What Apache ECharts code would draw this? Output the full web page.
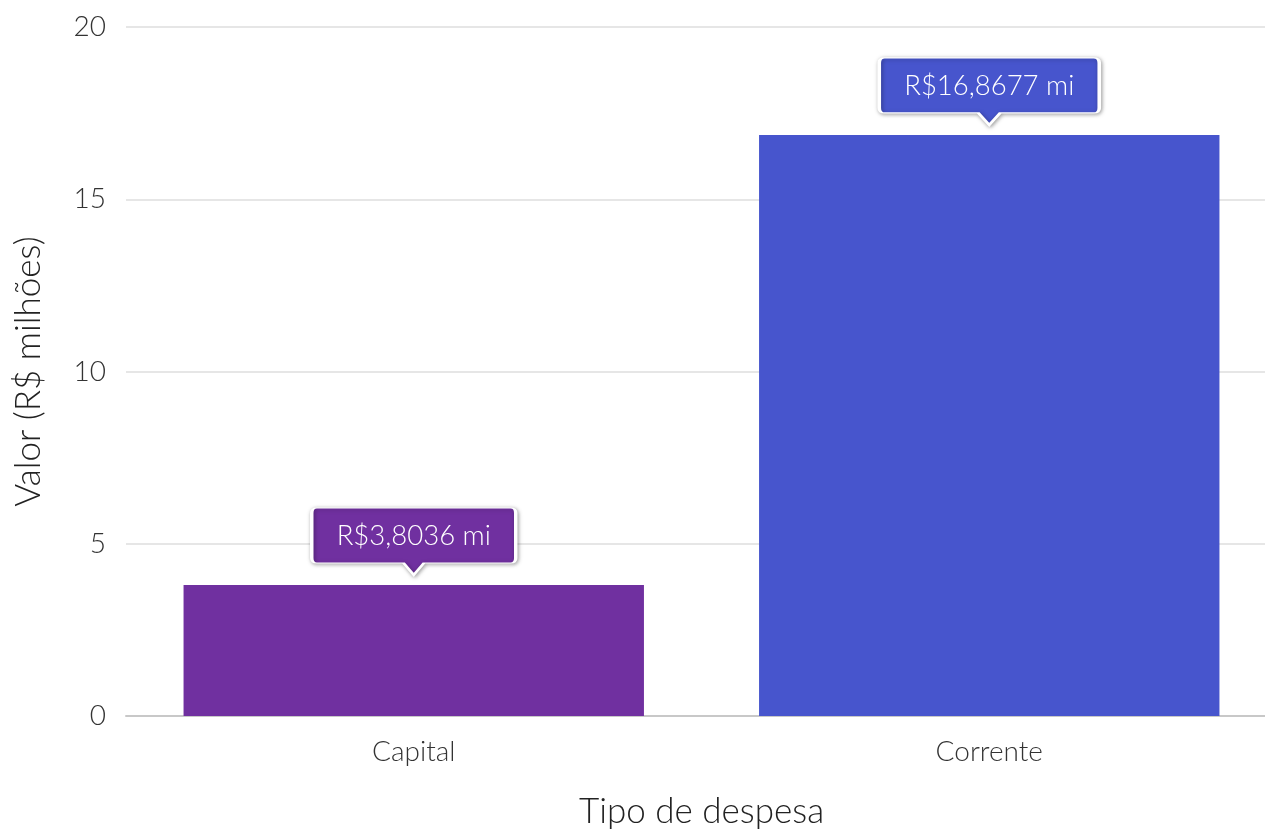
<!DOCTYPE html>
<html>
<head>
<meta charset="utf-8">
<script src="https://cdn.jsdelivr.net/npm/echarts@6/dist/echarts.min.js"></script>
<style>
  html, body { margin: 0; padding: 0; background: #fff; }
  #chart { width: 1265px; height: 829px; }
</style>
</head>
<body>
<div id="chart"></div>
<script>
var categories = ['Capital', 'Corrente'];
var values = [3.8036, 16.8677];
var labels = ['R$3,8036 mi', 'R$16,8677 mi'];
var colors = ['#7030A0', '#4755CD'];
var labelWidths = [204, 220];

var chartDom = document.getElementById('chart');
var myChart = echarts.init(chartDom);

// callout box with a small pointer at the bottom
var callout = 'path://M5,0 H195 Q200,0 200,5 V50 Q200,55 195,55 H110 L100,67 L90,55 H5 Q0,55 0,50 V5 Q0,0 5,0 Z';

var font = 'Lato';

var option = {
  textStyle: { fontFamily: font, fontWeight: 300 },
  grid: {
    left: 126,
    right: -12,
    top: 27,
    bottom: 113,
    outerBoundsMode: 'none'
  },
  xAxis: {
    type: 'category',
    data: categories,
    name: 'Tipo de despesa',
    nameLocation: 'middle',
    nameGap: 78,
    nameTextStyle: { fontSize: 35, color: '#222', fontFamily: font, fontWeight: 300 },
    axisLine: { lineStyle: { color: '#c8c8c8', width: 2 } },
    axisTick: { show: false },
    axisLabel: { fontSize: 28, color: '#333', margin: 22, fontFamily: font, fontWeight: 300 }
  },
  yAxis: {
    type: 'value',
    min: 0,
    max: 20,
    interval: 5,
    name: 'Valor (R$ milhões)',
    nameLocation: 'middle',
    nameGap: 80,
    nameTextStyle: { fontSize: 35, color: '#222', fontFamily: font, fontWeight: 300 },
    axisLine: { show: false },
    axisTick: { show: false },
    axisLabel: { fontSize: 28, color: '#333', margin: 20, fontFamily: font, fontWeight: 300 },
    splitLine: { lineStyle: { color: '#dedede', width: 1.5 } }
  },
  series: [
    {
      type: 'bar',
      barCategoryGap: '20%',
      data: values.map(function (v, i) {
        return { value: v, itemStyle: { color: colors[i] } };
      }),
      markPoint: {
        symbol: callout,
        data: values.map(function (v, i) {
          return {
            coord: [categories[i], v],
            symbolSize: [labelWidths[i], 67],
            symbolOffset: [0, -43.5],
            itemStyle: {
              color: colors[i],
              borderColor: '#fff',
              borderWidth: 2,
              shadowBlur: 4,
              shadowColor: 'rgba(0,0,0,0.35)',
              shadowOffsetX: 1,
              shadowOffsetY: 1
            },
            label: {
              show: true,
              formatter: labels[i],
              position: 'inside',
              offset: [0, -5],
              color: '#fff',
              fontSize: 27.5,
              fontFamily: font,
              fontWeight: 300
            }
          };
        })
      }
    }
  ]
};

myChart.setOption(option);

window.onresize = () => {
  myChart.resize();
}
</script>
</body>
</html>
